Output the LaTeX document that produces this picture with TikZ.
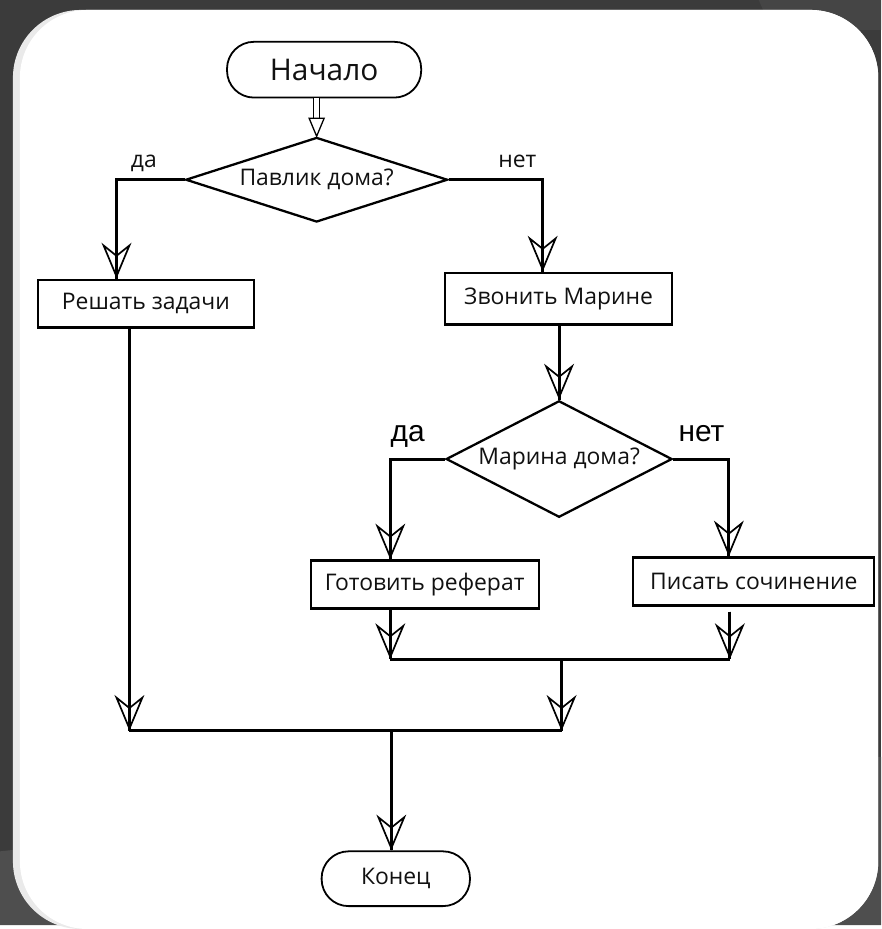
\documentclass[tikz,border=0pt]{standalone}
\usepackage{fontspec}
\setmainfont{Open Sans}
\newfontfamily\arialf{Liberation Sans}
\usetikzlibrary{arrows.meta,shapes.geometric,calc}
\definecolor{bgdark}{HTML}{3B3B3B}
\definecolor{bglight}{HTML}{4E4E4E}
\definecolor{bgmid}{HTML}{454545}
\definecolor{strip}{HTML}{EAEAEA}
\definecolor{txt}{HTML}{111111}
\begin{document}
\begin{tikzpicture}[x=1pt,y=-1pt,
  term/.style={draw, line width=1.8pt, fill=white, rounded corners=27pt, inner sep=0pt, text=txt},
  proc/.style={draw, line width=2.3pt, fill=white, rectangle, inner sep=0pt, text=txt, font=\fontsize{23}{27}\selectfont},
  decis/.style={draw, line width=2.3pt, fill=white, diamond, inner sep=0pt, text=txt, font=\fontsize{23}{27}\selectfont},
  lbl/.style={anchor=base, text=txt, font=\fontsize{23}{27}\selectfont},
  lblbig/.style={anchor=base, text=black, font=\arialf\fontsize{30}{34}\selectfont},
  wire/.style={draw, line width=3pt},
  flow/.style={draw, line width=3pt, -{Stealth[open, length=36pt, width=30pt, inset=12pt, line width=1.7pt]}, postaction={draw, -}},
  dblshaft/.style={draw, line width=1.2pt, double=white, double distance=4.5pt}
]
% background
\fill[bgdark] (0,0) rectangle (885,929);
\fill[bgmid] (762,0) -- (885,0) -- (885,30) -- (775,30) -- cycle;
\fill[bglight] (0,855) -- (885,760) -- (885,929) -- (0,929) -- cycle;
\fill[strip, rounded corners=68pt] (13,10) rectangle (882,933);
\fill[white, rounded corners=68pt] (20,10) rectangle (882,933);
\useasboundingbox (0,0) rectangle (885,929);

% nodes
\node[term, minimum width=195pt, minimum height=56pt, font=\fontsize{30}{34}\selectfont] (start) at (325.5,70) {Начало};
\node[decis, aspect=3.09, minimum width=263pt, minimum height=85pt] (d1) at (318,180.5) {Павлик дома?};
\node[proc, minimum width=217pt, minimum height=48pt] (b1) at (146.5,305) {Решать задачи};
\node[proc, minimum width=228pt, minimum height=52pt] (b2) at (561,300) {Звонить Марине};
\node[decis, aspect=1.94, minimum width=227pt, minimum height=117pt] (d2) at (561.5,461) {Марина дома?};
\node[proc, minimum width=229pt, minimum height=48pt] (b3) at (426.5,587) {Готовить реферат};
\node[proc, minimum width=242pt, minimum height=48pt] (b4) at (757,584) {Писать сочинение};
\node[term, minimum width=149pt, minimum height=55pt, font=\fontsize{23}{26}\selectfont] (endn) at (397.5,882.5) {Конец};

% labels
\node[lbl] (l1) at (144.5,168) {да};
\node[lbl] (l2) at (519.5,168) {нет};
\node[lblbig] (l3) at (409.5,443) {да};
\node[lblbig] (l4) at (704.5,443) {нет};

% helper coordinates
\coordinate (c1) at (117,181);
\coordinate (c2) at (545,181);
\coordinate (c3) at (392,461);
\coordinate (c4) at (732,461);
\coordinate (j1l) at (392,662);
\coordinate (j1r) at (733,662);
\coordinate (j1m) at (564,662);
\coordinate (j2l) at (130,734);
\coordinate (j2r) at (564,734);
\coordinate (j2m) at (393,734);

% start -> d1 (double arrow)
\draw[dblshaft] (d1.north |- start.south) -- ($(d1.north)+(0,-18)$);
\draw[line width=1.3pt, fill=white, line join=miter] (d1.north) -- ++(-7.5,-18) -- ++(15,0) -- cycle;

% connectors
\draw[flow] (d1.west) -| (b1.north -| c1);
\draw[flow] (d1.east) -| (b2.north -| c2);
\draw[flow] (b2.south -| d2.north) -- (d2.north);
\draw[flow] (d2.west) -| (b3.north -| c3);
\draw[flow] (d2.east) -| (b4.north -| c4);
\draw[flow] (b3.south -| j1l) -- (j1l);
\draw[flow] ($(b4.south -| j1r)+(0,5)$) -- (j1r);
\draw[wire] (j1l) -- (j1r);
\draw[flow] (j1m) -- (j2r);
\draw[flow] (b1.south -| j2l) -- (j2l);
\draw[wire] (j2l) -- (j2r);
\draw[flow] (j2m) -- (j2m |- endn.north);
\end{tikzpicture}
\end{document}
